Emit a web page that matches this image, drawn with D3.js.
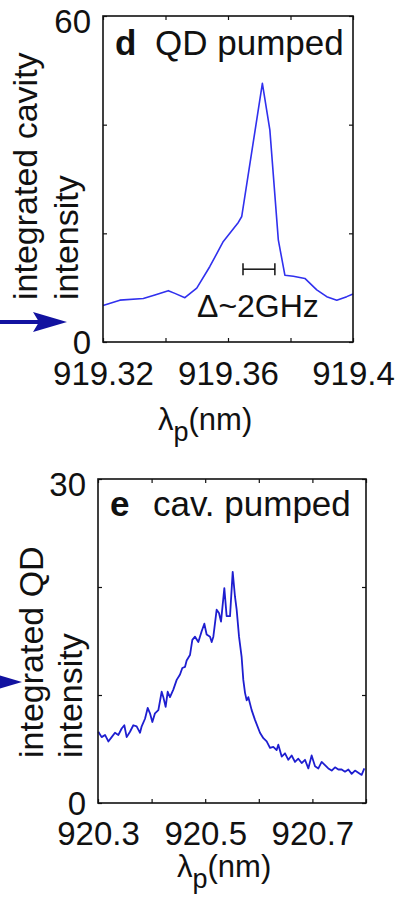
<!DOCTYPE html>
<html>
<head>
<meta charset="utf-8">
<script src="https://cdn.jsdelivr.net/npm/d3@7"></script>
<style>
body { margin: 0; background: #fff; }
svg text { font-family: "Liberation Sans", Arial, Helvetica, sans-serif; fill: #111; }
</style>
</head>
<body>
<script>
// panel d - QD pumped
var dWavelength = [919.3200, 919.3254, 919.3329, 919.3366, 919.3409, 919.3430, 919.3462, 919.3500,
	919.3542, 919.3585, 919.3633, 919.3644, 919.3710, 919.3734, 919.3761, 919.3782, 919.3809,
	919.3846, 919.3884, 919.3916, 919.3948, 919.3980, 919.4000];
var dIntensity = [6.7, 7.7, 8.0, 8.65, 9.45, 8.95, 8.15, 9.9, 13.9, 18.5, 22.0, 23.1, 47.6, 39.0,
	18.8, 12.3, 12.1, 11.7, 9.6, 8.35, 7.7, 8.35, 8.85];
var dXTicks = [919.32, 919.34, 919.36, 919.38, 919.40];
var dXLabels = [919.32, 919.36, 919.40];
var dYTicks = [0, 20, 40, 60];
var dYLabels = [0, 60];
var dWidthBar = [919.3648, 919.3750];   // linewidth marker
var dWidthBarLevel = 13.4;

// panel e - cav. pumped
var eWavelength = [920.3006, 920.3068, 920.3131, 920.3193, 920.3255, 920.3317, 920.3379, 920.3442,
	920.3491, 920.3535, 920.3597, 920.3659, 920.3721, 920.3784, 920.3815, 920.3877, 920.3927,
	920.3970, 920.4014, 920.4063, 920.4126, 920.4188, 920.4219, 920.4262, 920.4300, 920.4343,
	920.4405, 920.4468, 920.4530, 920.4573, 920.4623, 920.4654, 920.4716, 920.4760, 920.4810,
	920.4872, 920.4934, 920.4984, 920.5027, 920.5090, 920.5121, 920.5152, 920.5214, 920.5257,
	920.5295, 920.5357, 920.5400, 920.5463, 920.5513, 920.5556, 920.5587, 920.5631, 920.5680,
	920.5711, 920.5743, 920.5774, 920.5805, 920.5867, 920.5929, 920.6022, 920.6085, 920.6147,
	920.6209, 920.6271, 920.6333, 920.6364, 920.6427, 920.6489, 920.6551, 920.6613, 920.6675,
	920.6737, 920.6800, 920.6862, 920.6924, 920.6986, 920.7049, 920.7111, 920.7173, 920.7235,
	920.7297, 920.7360, 920.7422, 920.7484, 920.7546, 920.7608, 920.7671, 920.7733, 920.7795,
	920.7857, 920.7919, 920.7969];
var eIntensity = [6.6, 6.1, 6.3, 5.7, 6.1, 6.5, 6.3, 6.9, 7.2, 6.1, 6.6, 7.2, 7.1, 6.5, 7.1, 7.8, 8.8,
	8.3, 7.5, 8.3, 8.6, 10.3, 9.8, 8.9, 10.3, 9.8, 10.5, 11.4, 11.9, 12.5, 12.6, 13.2, 13.7, 15.1,
	15.4, 14.9, 15.9, 16.6, 15.6, 15.4, 14.9, 15.4, 17.9, 17.6, 16.8, 19.9, 17.3, 17.3, 21.4, 19.1,
	17.9, 15.4, 13.5, 11.4, 10.2, 9.5, 9.8, 8.6, 7.7, 6.5, 6.0, 5.7, 5.1, 5.2, 4.9, 5.4, 4.3, 4.6,
	4.0, 4.4, 3.8, 4.1, 3.7, 4.0, 3.2, 4.4, 3.4, 3.2, 3.8, 3.5, 3.2, 3.0, 3.3, 3.1, 3.1, 2.9, 3.1,
	2.7, 3.0, 2.8, 2.6, 3.2];
var eXTicks = [920.3, 920.4, 920.5, 920.6, 920.7, 920.8];
var eXLabels = [920.3, 920.5, 920.7];
var eYTicks = [0, 10, 20, 30];
var eYLabels = [0, 30];

var svg = d3.select("body")
			.append("svg")
			.attr("width", 401)
			.attr("height", 899);

function labelFormat(labels) {
	return function(d) {
		for (var i = 0; i < labels.length; i++) {
			if (Math.abs(labels[i] - d) < 1e-6) {
				return d3.format("~f")(d);
			}
		}
		return "";
	};
}

function cleanAxis(g) {
	g.select(".domain").remove();
	g.attr("font-size", null).attr("font-family", null);
	g.selectAll(".tick line").attr("stroke", "#111").attr("stroke-width", 1.2);
}

function drawPanel(p) {
	var x = d3.scaleLinear().domain(p.xDomain).range([p.left, p.right]);
	var y = d3.scaleLinear().domain(p.yDomain).range([p.bottom, p.top]);
	var g = svg.append("g");

	g.append("path")
	 .datum(d3.zip(p.wavelength, p.intensity))
	 .attr("fill", "none")
	 .attr("stroke", p.color)
	 .attr("stroke-width", p.lineWidth)
	 .attr("stroke-linejoin", "round")
	 .attr("d", d3.line()
	 	.x(function(d) { return x(d[0]); })
	 	.y(function(d) { return y(d[1]); }));

	var xb = g.append("g")
			  .attr("transform", "translate(0," + p.bottom + ")")
			  .call(d3.axisBottom(x).tickValues(p.xTicks).tickSizeInner(-4).tickSizeOuter(0)
			  	.tickFormat(labelFormat(p.xLabels)));
	cleanAxis(xb);
	xb.selectAll("text").attr("y", p.xLabelY).attr("dy", null).attr("font-size", 33);

	var xt = g.append("g")
			  .attr("transform", "translate(0," + p.top + ")")
			  .call(d3.axisTop(x).tickValues(p.xTicks).tickSizeInner(-4).tickSizeOuter(0).tickFormat(""));
	cleanAxis(xt);

	var yl = g.append("g")
			  .attr("transform", "translate(" + p.left + ",0)")
			  .call(d3.axisLeft(y).tickValues(p.yTicks).tickSizeInner(-4).tickSizeOuter(0)
			  	.tickFormat(labelFormat(p.yLabels)));
	cleanAxis(yl);
	yl.selectAll("text")
	  .attr("x", -12)
	  .attr("font-size", 33)
	  .attr("dy", function(d) { return d === p.yDomain[1] ? "0.5em" : "0.34em"; });

	var yr = g.append("g")
			  .attr("transform", "translate(" + p.right + ",0)")
			  .call(d3.axisRight(y).tickValues(p.yTicks).tickSizeInner(-4).tickSizeOuter(0).tickFormat(""));
	cleanAxis(yr);

	g.append("rect")
	 .attr("x", p.left)
	 .attr("y", p.top)
	 .attr("width", p.right - p.left)
	 .attr("height", p.bottom - p.top)
	 .attr("fill", "none")
	 .attr("stroke", "#111")
	 .attr("stroke-width", 1.6);

	// panel letter and title
	g.append("text")
	 .attr("x", p.letterX)
	 .attr("y", p.titleY)
	 .attr("font-size", 35)
	 .attr("font-weight", "bold")
	 .text(p.letter);
	g.append("text")
	 .attr("x", p.titleX)
	 .attr("y", p.titleY)
	 .attr("font-size", 35)
	 .text(p.title);

	// y axis title, two lines
	for (var i = 0; i < p.yTitle.length; i++) {
		g.append("text")
		 .attr("transform", "translate(" + p.yTitleX[i] + "," + p.yTitleY + ") rotate(-90)")
		 .attr("font-size", 34)
		 .text(p.yTitle[i]);
	}

	// x axis title: lambda_p (nm)
	var xt2 = g.append("text")
			   .attr("x", p.xTitleX)
			   .attr("y", p.xTitleY)
			   .attr("font-size", 31);
	xt2.append("tspan").text("λ");
	xt2.append("tspan").attr("dy", 11).attr("font-size", 27).text("p");
	xt2.append("tspan").attr("dy", -11).text("(nm)");

	// blue arrow coming in from the left
	g.append("line")
	 .attr("x1", -5)
	 .attr("y1", p.arrowY)
	 .attr("x2", p.arrowTip - 20)
	 .attr("y2", p.arrowY)
	 .attr("stroke", "#1212a0")
	 .attr("stroke-width", 4);
	g.append("path")
	 .attr("d", "M" + (p.arrowTip - 34) + "," + (p.arrowY - 10) +
	 	" L" + p.arrowTip + "," + p.arrowY +
	 	" L" + (p.arrowTip - 34) + "," + (p.arrowY + 10) +
	 	" L" + (p.arrowTip - 28) + "," + p.arrowY + " Z")
	 .attr("fill", "#1212a0");

	return { x: x, y: y, g: g };
}

var pd = drawPanel({
	wavelength: dWavelength, intensity: dIntensity,
	xDomain: [919.32, 919.40], yDomain: [0, 60],
	xTicks: dXTicks, xLabels: dXLabels, yTicks: dYTicks, yLabels: dYLabels,
	left: 103, right: 353, top: 16, bottom: 342,
	color: "#3030ee", lineWidth: 1.6,
	xLabelY: 43,
	letter: "d", letterX: 115, title: "QD pumped", titleX: 155, titleY: 55,
	yTitle: ["integrated cavity", "intensity"], yTitleX: [37, 78], yTitleY: 300,
	xTitleX: 158, xTitleY: 430,
	arrowY: 322, arrowTip: 67
});

// linewidth bar and label in panel d
var barY = pd.y(dWidthBarLevel);
pd.g.append("line")
	.attr("x1", pd.x(dWidthBar[0])).attr("x2", pd.x(dWidthBar[1]))
	.attr("y1", barY).attr("y2", barY)
	.attr("stroke", "#111").attr("stroke-width", 1.5);
dWidthBar.forEach(function(w) {
	pd.g.append("line")
		.attr("x1", pd.x(w)).attr("x2", pd.x(w))
		.attr("y1", barY - 6).attr("y2", barY + 6)
		.attr("stroke", "#111").attr("stroke-width", 1.5);
});
pd.g.append("text")
	.attr("x", 197)
	.attr("y", 317)
	.attr("font-size", 32)
	.text("Δ~2GHz");

drawPanel({
	wavelength: eWavelength, intensity: eIntensity,
	xDomain: [920.3, 920.8], yDomain: [0, 30],
	xTicks: eXTicks, xLabels: eXLabels, yTicks: eYTicks, yLabels: eYLabels,
	left: 98, right: 366, top: 479, bottom: 803,
	color: "#1e1ed0", lineWidth: 1.8,
	xLabelY: 42,
	letter: "e", letterX: 110, title: "cav. pumped", titleX: 153, titleY: 516,
	yTitle: ["integrated QD", "intensity"], yTitleX: [43, 82], yTitleY: 758,
	xTitleX: 177, xTitleY: 877,
	arrowY: 682, arrowTip: 22
});
</script>
</body>
</html>
